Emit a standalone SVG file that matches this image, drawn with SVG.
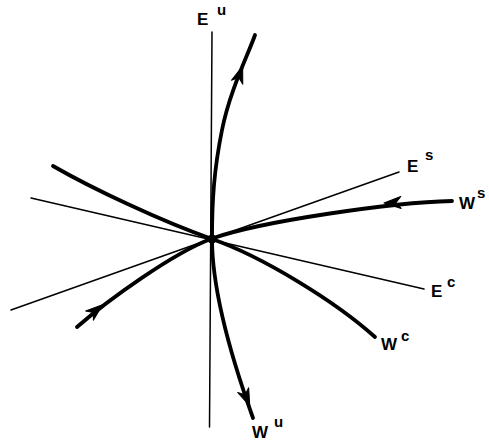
<svg xmlns="http://www.w3.org/2000/svg" xmlns:xlink="http://www.w3.org/1999/xlink" width="489" height="446" viewBox="0 0 489 446">
<style>
.thin{fill:none;stroke:#000;stroke-width:1.5;stroke-linecap:round}
.thick{fill:none;stroke:#000;stroke-width:3.8;stroke-linecap:round;stroke-linejoin:round}
.lbl{font-family:"Liberation Sans","DejaVu Sans",sans-serif;font-weight:bold;font-size:17px;fill:#000}
.sup{font-family:"Liberation Sans","DejaVu Sans",sans-serif;font-weight:bold;font-size:15px;fill:#000}
</style>
<defs>
<path id="ah" d="M2,0 L-15,-6 L-10,0 L-15,6 Z" fill="#000" stroke="#000" stroke-width="1" stroke-linejoin="round"/>
</defs>
<rect width="489" height="446" fill="#fff"/>
<g id="eigenspaces">
<path id="Eu" class="thin" d="M212,32 L209.5,427"/>
<path id="Es" class="thin" d="M11,310 L399,172"/>
<path id="Ec" class="thin" d="M31,198 L424,289"/>
</g>
<g id="manifolds">
<path id="Wu" class="thick" d="M255,35 C248,55 230,90 222,130 C214,170 212,200 212,238.5 C212,280 225,340 253,418"/>
<path id="Ws" class="thick" d="M77,327 C107,301 172,253.5 212,238.5 C262,221 392,202.5 452,201"/>
<path id="Wc" class="thick" d="M53,166 C93,189 162,221.5 212,239 C262,256.5 335,301 375,337"/>
</g>
<g id="arrows">
<use xlink:href="#ah" href="#ah" transform="translate(242,68) rotate(-71)"/>
<use xlink:href="#ah" href="#ah" transform="translate(249,404) rotate(67)"/>
<use xlink:href="#ah" href="#ah" transform="translate(386,203) rotate(178)"/>
<use xlink:href="#ah" href="#ah" transform="translate(101,306) rotate(-40)"/>
</g>
<g id="fixed-point">
<circle cx="212" cy="239" r="4.5" fill="#000"/>
</g>
<g id="labels">
<g id="label-Eu"><text class="lbl" x="197" y="25">E</text><text class="sup" x="217" y="15">u</text></g>
<g id="label-Es"><text class="lbl" x="407" y="172">E</text><text class="sup" x="425" y="160">s</text></g>
<g id="label-Ws"><text class="lbl" x="459" y="209">W</text><text class="sup" x="477" y="198">s</text></g>
<g id="label-Ec"><text class="lbl" x="431" y="297">E</text><text class="sup" x="447" y="287">c</text></g>
<g id="label-Wc"><text class="lbl" x="381" y="350">W</text><text class="sup" x="401" y="341">c</text></g>
<g id="label-Wu"><text class="lbl" x="252" y="438">W</text><text class="sup" x="274" y="427">u</text></g>
</g>
</svg>
